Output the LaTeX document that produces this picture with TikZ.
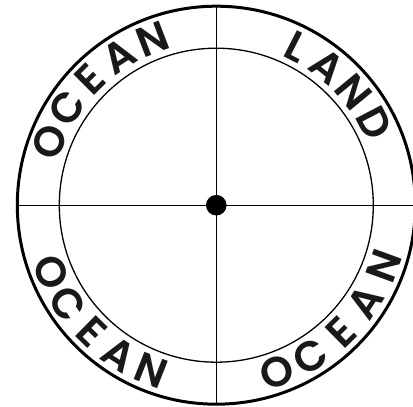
\documentclass[tikz,border=0pt]{standalone}
\usepackage{fontspec}
\setmainfont{Poppins}
\newfontfamily\lettfont{Poppins}[UprightFont=* SemiBold]
\begin{document}
\begin{tikzpicture}[x=1pt,y=1pt,
  ring/.style={line width=3pt},
  thinline/.style={line width=1.3pt},
  letter/.style={font=\fontsize{42pt}{42pt}\lettfont, inner sep=0pt, text=black!90}]
\useasboundingbox (0,0) rectangle (413,407);
\clip (0,0) rectangle (413,407);
\coordinate (c) at (216.3,201.8);
\path (c) ++(0,199) coordinate (top);
\path (c) ++(0,-199) coordinate (bottom);
\path (c) ++(-199,0) coordinate (left);
\path (c) ++(199,0) coordinate (right);
\draw[ring] (c) circle[radius=199];
\draw[thinline] (c) circle[radius=157];
\draw[thinline] (top) -- (bottom);
\draw[thinline] (left) -- (right);
\fill (c) circle[radius=10.3];
% top-left OCEAN
\foreach \ch/\a [count=\i] in {O/159,C/147,E/135,A/123,N/111}
  \path (c) ++(\a:178) node[letter, rotate=\a-90] (tl\i) {\ch};
% LAND
\foreach \ch/\a [count=\i] in {L/63,A/51.5,N/39.5,D/27.5}
  \path (c) ++(\a:178) node[letter, rotate=\a-90] (tr\i) {\ch};
% bottom-left OCEAN
\foreach \ch/\a [count=\i] in {O/202,C/213.5,E/225.5,A/237,N/248.6}
  \path (c) ++(\a:178) node[letter, rotate=\a+90] (bl\i) {\ch};
% bottom-right OCEAN
\foreach \ch/\a [count=\i] in {O/290,C/302,E/314.5,A/327,N/340}
  \path (c) ++(\a:178) node[letter, rotate=\a+90] (br\i) {\ch};
\end{tikzpicture}
\end{document}
